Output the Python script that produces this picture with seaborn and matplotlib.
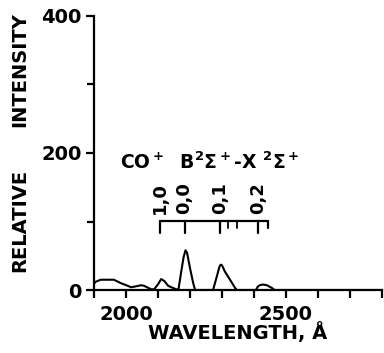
import matplotlib
matplotlib.use("Agg")
import matplotlib.pyplot as plt
import seaborn as sns
import pandas as pd

# ---- data ----
wavelength = [1900, 1905, 1921, 1962, 1984, 2006, 2016, 2038, 2047, 2057, 2079, 2088,
              2101, 2110, 2120, 2132, 2142, 2157, 2164, 2173, 2180, 2186, 2191, 2200,
              2210, 2216, 2240, 2260, 2272, 2284, 2292, 2296, 2300, 2309, 2325, 2341,
              2346, 2380, 2406, 2412, 2418, 2428, 2440, 2456, 2464, 2500, 2600, 2700, 2800]
intensity = [9, 12, 15, 15, 10, 6, 4, 6, 7, 6, 1, 1,
             9, 16, 13, 6, 4, 1, 1, 28, 48, 58, 54, 32,
             10, 0, 0, 0, 0, 20, 34, 37, 36, 27, 15, 3,
             0, 0, 0, 5, 7, 8, 7, 3, 0, 0, 0, 0, 0]

band_wl = [2105, 2183, 2293, 2414]
band_labels = ["1,0", "0,0", "0,1", "0,2"]
minor_band_wl = [2320, 2346]
bracket_end = 2443

x_ticks = [1900, 2000, 2100, 2200, 2300, 2400, 2500, 2600, 2700, 2800]
x_ticklabels = ["", "2000", "", "", "", "", "2500", "", "", ""]
y_ticks = [0, 200, 400]
y_ticklabels = ["0", "200", "400"]
y_minor = [100, 300]

title_text = r"CO$^+$  B$^2\Sigma^+$-X $^2\Sigma^+$"
xlabel = "WAVELENGTH, Å"
ylabel_words = ["RELATIVE", "INTENSITY"]

# ---- style ----
sns.set_style("ticks")
plt.rcParams["font.family"] = ["DejaVu Sans"]
plt.rcParams["mathtext.default"] = "regular"
plt.rcParams["text.color"] = "black"

fig = plt.figure(figsize=(3.84, 3.53), dpi=100)
ax = fig.add_axes([94 / 384, 63 / 353, 288 / 384, 274 / 353])

df = pd.DataFrame({"wl": wavelength, "I": intensity})
sns.lineplot(data=df, x="wl", y="I", ax=ax, color="black", linewidth=1.5)

ax.set_xlim(1900, 2800)
ax.set_ylim(0, 400)
ax.set_xticks(x_ticks)
ax.set_xticklabels(x_ticklabels, fontweight="bold")
ax.set_yticks(y_ticks)
ax.set_yticklabels(y_ticklabels, fontweight="bold")
ax.set_yticks(y_minor, minor=True)
ax.set_xlabel("")
ax.set_ylabel("")

for s in ["top", "right"]:
    ax.spines[s].set_visible(False)
for s in ["left", "bottom"]:
    ax.spines[s].set_linewidth(1.6)
    ax.spines[s].set_color("black")

ax.tick_params(axis="both", which="major", direction="out", length=6, width=1.6,
               colors="black", labelsize=14)
ax.tick_params(axis="x", pad=5)
ax.tick_params(axis="y", pad=3)
ax.tick_params(axis="y", which="minor", direction="out", length=5, width=1.6, colors="black")

# band bracket
lvl, low, mid = 101, 83, 90
ax.plot([band_wl[0], bracket_end], [lvl, lvl], color="black", lw=1.6)
for w in band_wl:
    ax.plot([w, w], [lvl, low], color="black", lw=1.6)
for w in minor_band_wl:
    ax.plot([w, w], [lvl, mid], color="black", lw=1.3)
ax.plot([bracket_end, bracket_end], [lvl, mid], color="black", lw=1.6)
for w, lab in zip(band_wl, band_labels):
    ax.text(w, 111, lab, rotation=90, ha="center", va="bottom", fontsize=13,
            fontweight="bold", color="black")

ax.text(2262, 187, title_text, ha="center", va="center", fontsize=13.5,
        fontweight="bold", color="black")

fig.text(238 / 384, 1 - 333 / 353, xlabel, ha="center", va="center", fontsize=14,
         fontweight="bold", color="black")
fig.text(20 / 384, 1 - 220 / 353, ylabel_words[0], ha="center", va="center",
         rotation=90, fontsize=14, fontweight="bold", color="black")
fig.text(20 / 384, 1 - 70 / 353, ylabel_words[1], ha="center", va="center",
         rotation=90, fontsize=14, fontweight="bold", color="black")

fig.savefig("out.png", dpi=100)
